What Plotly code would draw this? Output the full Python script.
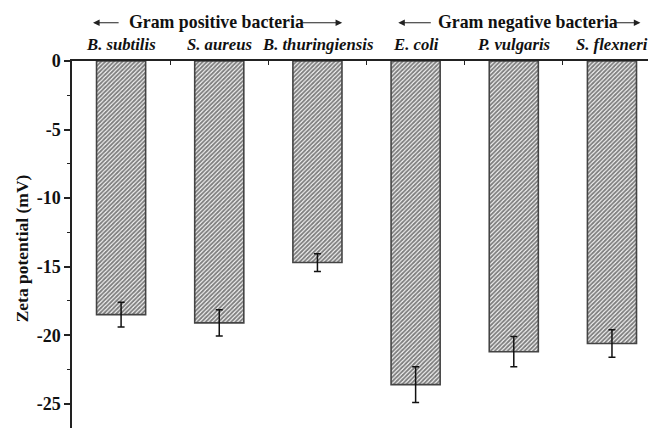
import plotly.graph_objects as go

categories = ["B. subtilis", "S. aureus", "B. thuringiensis", "E. coli", "P. vulgaris", "S. flexneri"]
zeta = [-18.5, -19.1, -14.7, -23.6, -21.2, -20.6]
err = [0.9, 0.95, 0.65, 1.3, 1.1, 1.0]
yticks = [0, -5, -10, -15, -20, -25]
groups = ["Gram positive bacteria", "Gram negative bacteria"]

xpos = list(range(len(categories)))
FONT = "Liberation Serif"

fig = go.Figure()
fig.add_trace(go.Bar(
    x=xpos, y=zeta, width=0.5,
    marker=dict(color="white", line=dict(color="#444444", width=1.6),
                pattern=dict(shape="/", fgcolor="#000000", bgcolor="white", size=3, solidity=0.65)),
    error_y=dict(type="data", array=err, visible=True, color="#111111", thickness=1.5, width=3.5),
    showlegend=False,
))

fig.update_layout(
    width=656, height=428,
    margin=dict(l=64, r=0, t=53, b=0, autoexpand=False),
    plot_bgcolor="white", paper_bgcolor="white",
    font=dict(family=FONT, color="#111111"),
    xaxis=dict(range=[-0.5, 5.53], side="top", showline=True, linecolor="#222222", linewidth=1.5,
               tickvals=[], showgrid=False, zeroline=False, automargin=False,
               minor=dict(tickmode="array", tickvals=[0.5, 1.5, 2.5, 3.5, 4.5], ticks="inside", ticklen=4,
                          tickcolor="#222222", tickwidth=1.2)),
    yaxis=dict(range=[-27.35, 0], showline=True, linecolor="#222222", linewidth=1.5,
               tickvals=yticks, ticktext=[str(v) for v in yticks], ticks="outside", ticklen=6,
               tickwidth=1.5, tickcolor="#222222", showgrid=False, zeroline=False, automargin=False,
               tickfont=dict(family=FONT, size=18, color="#111111", weight="bold"),
               minor=dict(tickmode="array", tickvals=[-2.5, -7.5, -12.5, -17.5, -22.5], ticks="outside",
                          ticklen=3.5, tickwidth=1.2, tickcolor="#222222"),
               title=dict(text="Zeta potential (mV)", font=dict(family=FONT, size=17.5, weight="bold"),
                          standoff=4)),
)

# category labels
for xi, name in zip(xpos, categories):
    fig.add_annotation(x=xi, y=1.045, xref="x", yref="paper", text="<i>%s</i>" % name,
                       xanchor="center", yanchor="middle", showarrow=False,
                       font=dict(family=FONT, size=16.7, color="#111111", weight="bold"))

# group headers
for gx, g in zip([0.968, 4.148], groups):
    fig.add_annotation(x=gx, y=1.104, xref="x", yref="paper", text=g,
                       xanchor="center", yanchor="middle", showarrow=False,
                       font=dict(family=FONT, size=17.8, color="#111111", weight="bold"))

# arrows: (head, tail) in x data units
arrows = [(-0.286, -0.01), (2.252, 1.83), (2.823, 3.17), (5.29, 5.02)]
for head, tail in arrows:
    fig.add_annotation(x=head, y=1.102, ax=tail, ay=0, xref="x", yref="paper", axref="x", ayref="pixel",
                       text="", showarrow=True, arrowhead=2, arrowsize=1.1, arrowwidth=1.2,
                       arrowcolor="#222222")

fig.write_html("out.html")
